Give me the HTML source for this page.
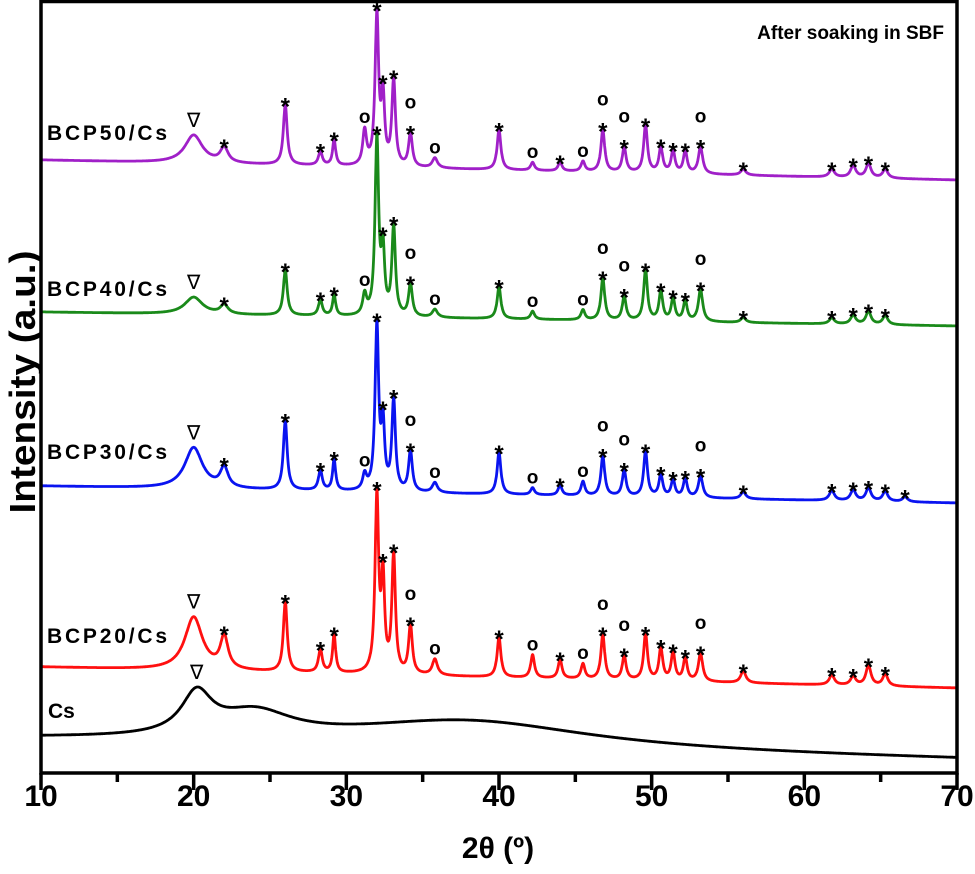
<!DOCTYPE html>
<html><head><meta charset="utf-8">
<style>
html,body{margin:0;padding:0;background:#fff;}
svg{display:block;font-family:"Liberation Sans",Arial,sans-serif;}
</style></head>
<body>
<svg id="chart" width="975" height="874" viewBox="0 0 975 874" xmlns="http://www.w3.org/2000/svg">
  <g id="series"></g>
  <g id="annots"></g>
  <rect x="41" y="1.5" width="916" height="771.5" fill="none" stroke="#000" stroke-width="3.5"/>
  <g id="xticks"></g>
  <text x="498" y="858" font-size="30" font-weight="bold" text-anchor="middle">2θ (º)</text>
  <text transform="translate(35,382) rotate(-90)" font-size="36" font-weight="bold" text-anchor="middle" textLength="263" lengthAdjust="spacingAndGlyphs">Intensity (a.u.)</text>
  <text x="944" y="39" font-size="19" font-weight="bold" text-anchor="end">After soaking in SBF</text>
  <text x="47" y="140" font-size="21" font-weight="bold" textLength="120" lengthAdjust="spacing">BCP50/Cs</text>
  <text x="47" y="296" font-size="21" font-weight="bold" textLength="120" lengthAdjust="spacing">BCP40/Cs</text>
  <text x="47" y="459" font-size="21" font-weight="bold" textLength="120" lengthAdjust="spacing">BCP30/Cs</text>
  <text x="47" y="643" font-size="21" font-weight="bold" textLength="120" lengthAdjust="spacing">BCP20/Cs</text>
  <text x="48" y="718" font-size="21" font-weight="bold">Cs</text>
</svg>
<script>
// ---- data ----
const xTicks = [10,20,30,40,50,60,70];
const xMinorTicks = [15,25,35,45,55,65];
const peakPos = [20,22,26,28.3,29.2,31.2,32,32.4,33.1,34.2,35.8,40,42.2,44,45.5,46.8,48.2,49.6,50.6,51.4,52.2,53.2,56,61.8,63.2,64.2,65.3,66.6];
const peakWidth = [0.7,0.3,0.15,0.15,0.12,0.15,0.14,0.13,0.14,0.15,0.2,0.15,0.15,0.15,0.15,0.15,0.15,0.15,0.15,0.15,0.15,0.17,0.2,0.2,0.2,0.2,0.2,0.2];
const peakSymbol = ['∇','*','*','*','*','o','*','*','*','o*','o','*','o','*','o','o*','o*','*','*','*','*','o*','*','*','*','*','*','*'];
const bcp20Heights = [53,32,70,23,38,0,175,90,117,48,16,40,23,19,15,45,24,46,32,28,23,28,12,10,9,20,12,0];
const bcp30Heights = [41,20,69,20,31,15,164,62,90,40,10,42,7,10,14,40,26,45,22,17,19,22,7,10,11,13,10,5];
const bcp40Heights = [17,9,45,16,21,20,176,60,88,32,8,32,8,0,10,42,24,50,29,22,20,32,5,6,9,13,9,0];
const bcp50Heights = [28,15,60,14,26,34,149,65,85,33,10,40,8,9,10,42,25,47,25,22,22,27,6,8,12,14,9,0];
const bcpBaseStart = [106,287,461,613];   // intensity above x-axis at 10°: BCP20, BCP30, BCP40, BCP50
const bcpBaseEnd = [85,270,447,593];      // intensity at 70°
const csPos = [20.2,24,38];
const csHeights = [40,25,28];
const csWidths = [1.2,3,10];
const csBase = [33,13];
const seriesNames = ['bcp20','bcp30','bcp40','bcp50'];
const seriesColors = ['#ff1010','#0a14f0','#1a8a1a','#a020c8'];

// ---- scales ----
const X0=41, X1=957, Y0=773;
const xs = d => X0 + (d-10)*(X1-X0)/60;
const ys = v => Y0 - v;
const NS='http://www.w3.org/2000/svg';
function mk(tag, attrs, parent){const e=document.createElementNS(NS,tag);for(const k in attrs)e.setAttribute(k,attrs[k]);parent.appendChild(e);return e;}

function curve(d, base0, base1, pos, h, w){
  let v = base0 + (base1-base0)*(d-10)/60;
  for(let i=0;i<pos.length;i++){const t=(d-pos[i])/w[i];v+=h[i]/(1+t*t);}
  return v;
}

const sg=document.getElementById('series'), ag=document.getElementById('annots');
const allH=[bcp20Heights,bcp30Heights,bcp40Heights,bcp50Heights];
for(let s=0;s<4;s++){
  let p='';
  for(let d=10;d<=70.001;d+=0.02){
    const v=curve(d,bcpBaseStart[s],bcpBaseEnd[s],peakPos,allH[s],peakWidth);
    p+=(p?'L':'M')+xs(d).toFixed(1)+' '+ys(v).toFixed(1);
  }
  const path=mk('path',{d:p,fill:'none',stroke:seriesColors[s],'stroke-width':2.8,'stroke-linejoin':'round'},sg);
  
  
  for(let i=0;i<peakPos.length;i++){
    if(allH[s][i]<5) continue;
    const top=curve(peakPos[i],bcpBaseStart[s],bcpBaseEnd[s],peakPos,allH[s],peakWidth);
    const sym=peakSymbol[i];
    let y=ys(top)-4;
    const chars=sym.split('').reverse();
    for(const c of chars){
      let t;
      if(c==='*'){ t=mk('text',{x:xs(peakPos[i]),y:y+14,'font-size':24,'font-weight':'bold','text-anchor':'middle'},ag); t.textContent='*'; y-=20; }
      else if(c==='o'){ t=mk('text',{x:xs(peakPos[i]),y:y,'font-size':19,'font-weight':'bold','text-anchor':'middle'},ag); t.textContent='o'; y-=18; }
      else { t=mk('text',{x:xs(peakPos[i]),y:y-4,'font-size':20,'text-anchor':'middle'},ag); t.textContent='∇'; y-=22; }
      
      
    }
  }
}
// Cs series
{
  let p='';
  for(let d=10;d<=70.001;d+=0.02){
    const v=curve(d,csBase[0],csBase[1],csPos,csHeights,csWidths);
    p+=(p?'L':'M')+xs(d).toFixed(1)+' '+ys(v).toFixed(1);
  }
  const path=mk('path',{d:p,fill:'none',stroke:'#000','stroke-width':2.8},sg);
  
  
  const top=curve(20.2,csBase[0],csBase[1],csPos,csHeights,csWidths);
  const t=mk('text',{x:xs(20.2),y:ys(top)-8,'font-size':20,'text-anchor':'middle'},ag);
  t.textContent='∇';
  
  
}
// axis ticks
const xg=document.getElementById('xticks');
for(const v of xTicks){
  const l=mk('line',{x1:xs(v),x2:xs(v),y1:Y0,y2:Y0+17,stroke:'#000','stroke-width':3.5},xg);
  
  
  const t=mk('text',{x:xs(v),y:806,'font-size':30,'font-weight':'bold','text-anchor':'middle'},xg);
  t.textContent=v;
  
  
}
for(const v of xMinorTicks){
  const l=mk('line',{x1:xs(v),x2:xs(v),y1:Y0,y2:Y0+9,stroke:'#000','stroke-width':3.5},xg);
  
  
}
</script>
</body></html>
